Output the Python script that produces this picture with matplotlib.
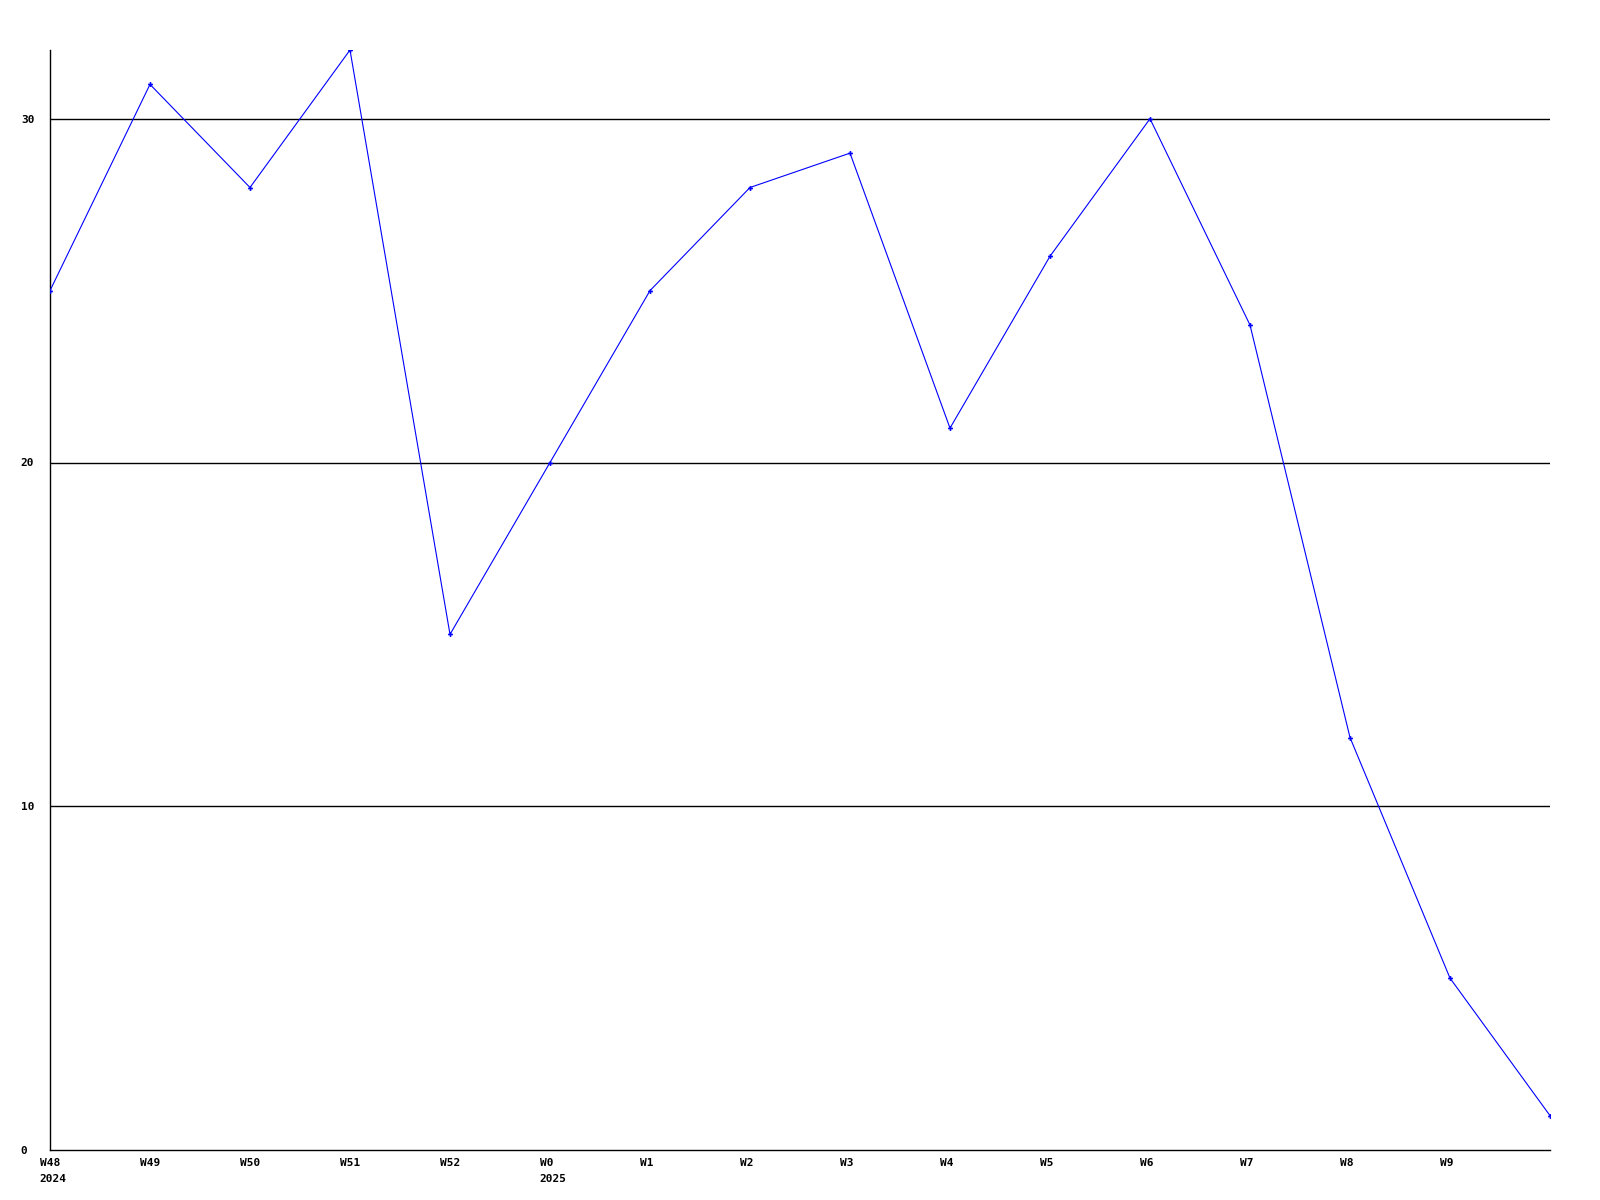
import matplotlib
matplotlib.use("Agg")
import matplotlib.pyplot as plt
import matplotlib.transforms as mtransforms

weeks = ["W48\n2024", "W49", "W50", "W51", "W52", "W0\n2025", "W1", "W2", "W3",
         "W4", "W5", "W6", "W7", "W8", "W9", ""]
values = [25, 31, 28, 32, 15, 20, 25, 28, 29, 21, 26, 30, 24, 12, 5, 1]
y_ticks = [0, 10, 20, 30]

fig = plt.figure(figsize=(16, 12), dpi=100)
ax = fig.add_axes([50 / 1600, 1 - 1150 / 1200, 1500 / 1600, 1100 / 1200])

xs = list(range(len(values)))
ax.plot(xs, values, color="#0000ff", linewidth=0.8, marker="P", markersize=3.5,
        markeredgewidth=0, zorder=3)

ax.set_xlim(0, len(values) - 1)
ax.set_ylim(0, 32)

for y in y_ticks[1:]:
    ax.axhline(y, color="black", linewidth=1, zorder=1)

ax.set_xticks(xs[:-1])
ax.set_xticklabels(weeks[:-1])
ax.set_yticks(y_ticks)
ax.set_yticklabels([str(v) for v in y_ticks])
ax.tick_params(length=0, labelsize=8)
ax.tick_params(axis="y", pad=21)
ax.tick_params(axis="x", pad=6)

offset = mtransforms.ScaledTranslation(-0.105, 0, fig.dpi_scale_trans)
for tick in ax.xaxis.get_major_ticks():
    lbl = tick.label1
    lbl.set_fontfamily("DejaVu Sans Mono")
    lbl.set_fontweight("bold")
    lbl.set_horizontalalignment("left")
    lbl.set_verticalalignment("top")
    lbl.set_linespacing(1.65)
    lbl.set_transform(lbl.get_transform() + offset)
for lbl in ax.get_yticklabels():
    lbl.set_fontfamily("DejaVu Sans Mono")
    lbl.set_fontweight("bold")
    lbl.set_horizontalalignment("left")

for s in ["top", "right"]:
    ax.spines[s].set_visible(False)
for s in ["left", "bottom"]:
    ax.spines[s].set_color("black")
    ax.spines[s].set_linewidth(1)

fig.savefig("out.png", dpi=100, facecolor="white")
